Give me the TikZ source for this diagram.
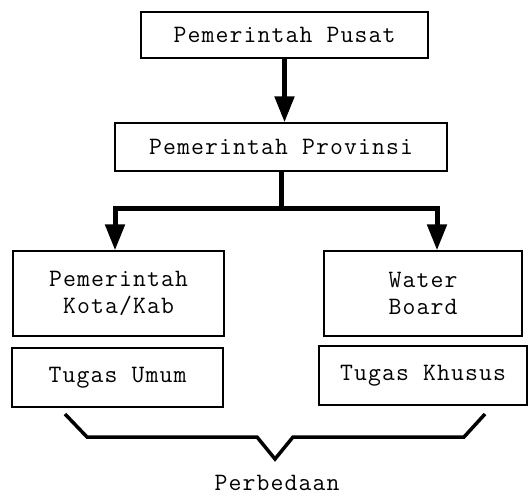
\documentclass[tikz,border=0pt]{standalone}
\usepackage{fontspec}
\newfontfamily\diagfont[LetterSpace=4.5]{Latin Modern Mono}
\usetikzlibrary{arrows.meta}
\begin{document}
\begin{tikzpicture}[x=1pt,y=-1pt,
  box/.style={draw, line width=1.3pt, inner sep=0pt, align=center,
    font=\diagfont\fontsize{25}{27}\selectfont},
  flow/.style={line width=5pt, -{Triangle[length=26pt,width=19pt]}},
  flowboth/.style={line width=5pt, {Triangle[length=26pt,width=19pt]}-{Triangle[length=26pt,width=19pt]}},
  brace/.style={line width=3.5pt, line join=miter},
  caption/.style={font=\diagfont\fontsize{25}{27}\selectfont, inner sep=0pt}]
\useasboundingbox (0,0) rectangle (532,496);

% hierarchy boxes
\node[box, minimum width=287pt, minimum height=46pt] (pusat) at (284.5,35) {Pemerintah Pusat};
\node[box, minimum width=332pt, minimum height=48pt] (prov) at (281,147) {Pemerintah Provinsi};
\node[box, minimum width=211pt, minimum height=85pt] (kota) at (118.5,293.5) {Pemerintah\\Kota/Kab};
\node[box, minimum width=198pt, minimum height=85pt] (water) at (423,293.5) {Water\\Board};
\node[box, minimum width=211pt, minimum height=59pt] (umum) at (117.5,377.5) {Tugas Umum};
\node[box, minimum width=208pt, minimum height=59pt] (khusus) at (423,375.5) {Tugas Khusus};

% central government to province
\draw[flow] (pusat.south) -- (pusat.south |- prov.north);

% province branching to city and water board
\coordinate (jl) at (115,208);
\coordinate (jr) at (437,208);
\draw[line width=5pt] (prov.south) -- (prov.south |- jl);
\draw[flowboth, line join=miter] (jl |- kota.north) -- (jl) -- (jr) -- (jr |- water.north);

% brace grouping the two tasks
\coordinate (bl) at (65,414);
\coordinate (bl2) at (87,437);
\coordinate (bm1) at (257,437);
\coordinate (btip) at (275,459);
\coordinate (bm2) at (293,437);
\coordinate (br2) at (464,437);
\coordinate (br) at (485,414);
\draw[brace] (bl) -- (bl2) -- (bm1) -- (btip) -- (bm2) -- (br2) -- (br);

\node[caption] (beda) at (277,483) {Perbedaan};
\end{tikzpicture}
\end{document}
